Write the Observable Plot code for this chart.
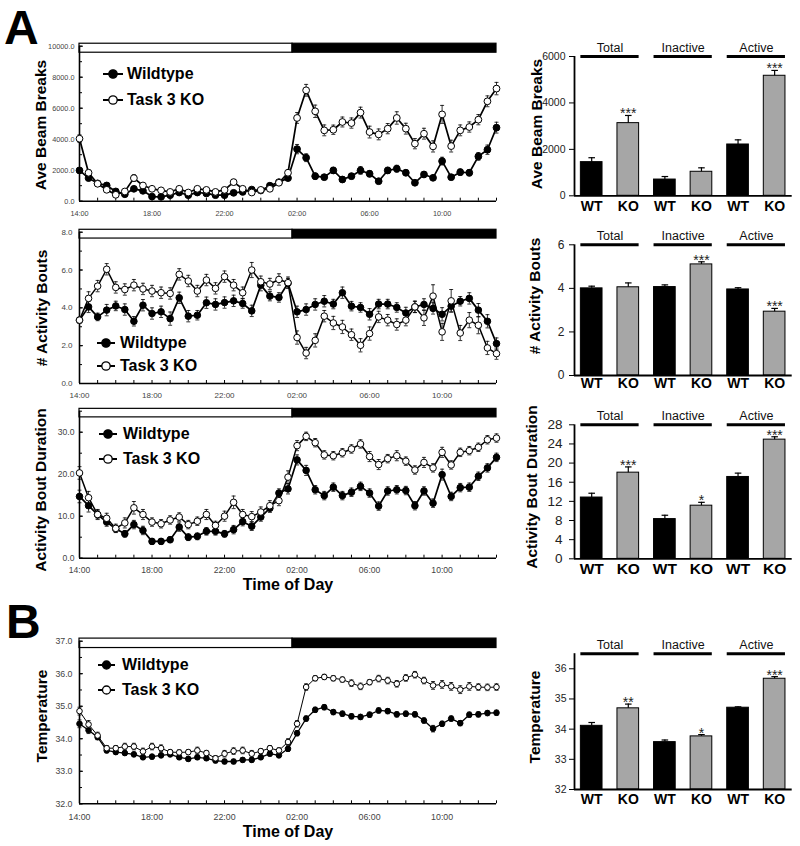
<!DOCTYPE html>
<html><head><meta charset="utf-8">
<script src="https://cdn.jsdelivr.net/npm/d3@7"></script>
<script src="https://cdn.jsdelivr.net/npm/@observablehq/plot@0.6"></script>
<style>
body{margin:0;background:#fff;}
#fig{position:relative;width:800px;height:846px;background:#fff;font-family:"Liberation Sans",Arial,Helvetica,sans-serif;color:#000;overflow:hidden}
.wrap{position:absolute}
.ytitle{position:absolute;transform:translate(-50%,-50%) rotate(-90deg);white-space:nowrap;font-weight:bold;font-size:15.5px;line-height:1}
.panel{position:absolute;font-weight:bold;font-size:48px;line-height:normal}
.xtitle{position:absolute;transform:translate(-50%,-50%);white-space:nowrap;font-weight:bold;font-size:16px;line-height:1}
.leg{position:absolute;display:flex;align-items:center;font-weight:bold;font-size:16px;white-space:nowrap;transform:translateY(-50%);line-height:1}
</style></head>
<body>
<div id="fig"></div>
<script>
// ---------- DATA ----------
// half-hour bins, hours after 14:00 (14:00 ... 13:00)
const halfHours = d3.range(47).map(i => i / 2);
const hourTicks = d3.range(0, 24);
const labelTicks = [0, 4, 8, 12, 16, 20];
const phases = [{phase: "light", start: 0, end: 11.75}, {phase: "dark", start: 11.75, end: 23}];
const legendLabels = ["Wildtype", "Task 3 KO"];
const groups = ["Total", "Inactive", "Active"];
const genoLabels = ["WT", "KO"];

// Ave Beam Breaks (time course)
const beamWT = [1985,1490,1150,1015,630,450,800,670,300,280,390,560,390,560,500,390,390,540,600,750,690,1000,1230,1490,3360,2805,1615,1550,1985,1400,1615,1985,1770,1290,1985,2095,1835,1190,1725,1510,2585,1550,1875,1835,2890,3320,4745];
const beamKO = [4034,1835,1125,736,413,627,1490,1015,800,700,600,800,560,800,730,600,730,1230,800,560,730,800,1190,1835,5370,7155,5800,4570,4610,5110,5040,5715,4460,4310,4680,5370,4680,3710,4355,3535,5600,3555,4570,4785,5260,6445,7265];
const beamWTerr = [150,120,100,100,80,80,120,100,60,60,60,80,60,80,80,60,60,80,80,90,90,120,130,150,300,250,200,150,200,150,180,250,200,160,200,220,180,150,180,150,250,170,200,200,250,300,350];
const beamKOerr = [250,200,150,120,100,100,220,150,120,100,100,120,100,120,120,100,100,180,120,100,120,130,150,200,350,380,400,350,300,320,330,350,380,350,330,400,350,330,350,360,580,380,350,330,330,350,400];

// # Activity Bouts (time course)
const boutsWT = [3.35,4.05,3.52,3.88,4.1,3.91,3.29,4.14,3.7,3.79,3.43,4.53,3.56,3.61,4.27,4.18,4.28,4.37,4.23,3.84,5.2,4.62,4.55,5.3,3.79,3.91,4.18,4.35,4.2,4.8,4.09,4.02,3.66,4.2,4.2,4.02,3.73,4.05,4.18,3.97,3.66,4.09,4.35,4.5,3.88,3.29,2.11];
const boutsKO = [3.35,4.5,5.15,6.04,5.08,4.97,5.2,5.0,4.89,4.8,4.76,5.77,5.42,4.89,5.47,5.03,5.65,5.2,4.8,6.0,5.38,5.26,5.5,5.33,2.43,1.61,2.28,3.56,3.2,2.99,2.58,2.02,2.64,3.52,3.35,3.12,3.35,4.05,3.47,4.62,2.73,4.37,2.67,3.35,3.08,1.88,1.58];
const boutsWTerr = [0.15,0.3,0.2,0.3,0.25,0.3,0.25,0.3,0.3,0.3,0.35,0.3,0.3,0.25,0.3,0.3,0.3,0.3,0.25,0.3,0.3,0.25,0.25,0.25,0.3,0.3,0.3,0.3,0.25,0.3,0.25,0.25,0.3,0.25,0.25,0.25,0.3,0.3,0.3,0.3,0.35,0.3,0.25,0.3,0.35,0.35,0.3];
const boutsKOerr = [0.15,0.35,0.3,0.3,0.3,0.3,0.3,0.3,0.3,0.3,0.3,0.3,0.3,0.3,0.3,0.3,0.3,0.3,0.3,0.4,0.3,0.3,0.3,0.3,0.35,0.3,0.35,0.3,0.35,0.35,0.3,0.35,0.35,0.3,0.3,0.3,0.3,0.3,0.4,0.6,0.45,0.6,0.4,0.4,0.45,0.35,0.3];

// Activity Bout Duration (time course)
const durWT = [14.7,12.5,10.4,8.6,7.0,5.8,8.0,6.6,4.0,4.0,4.4,7.4,5.0,5.2,6.4,6.4,5.8,6.8,8.7,7.6,9.8,11.9,15.5,16.5,23.4,20.9,16.3,14.9,16.9,14.9,15.7,17.1,15.5,12.4,16.0,16.3,16.1,12.5,16.0,13.1,19.9,14.7,16.8,16.9,19.5,21.5,24.0];
const durKO = [20.3,14.4,10.4,9.5,7.1,8.4,12.0,10.4,8.6,8.2,9.1,9.8,8.0,8.8,10.4,7.8,10.0,13.3,10.4,9.9,11.0,12.5,13.7,19.3,26.8,29.0,27.5,24.6,24.4,25.1,26.0,27.2,24.2,22.3,23.7,24.4,23.1,21.0,22.8,21.5,25.2,22.2,25.2,25.6,26.4,28.2,28.6];
const durWTerr = [1.5,1.5,1.0,1.0,0.8,0.8,1.0,1.0,0.7,0.7,0.7,1.0,0.8,0.8,0.9,0.9,0.8,1.0,1.0,1.0,1.0,1.0,1.0,1.2,1.2,1.2,1.0,1.0,1.0,1.0,1.0,1.0,1.0,1.0,1.0,1.0,1.0,1.0,1.0,1.0,1.3,1.0,1.0,1.0,1.0,1.0,1.0];
const durKOerr = [1.5,1.5,1.2,1.2,1.0,1.2,1.5,1.2,1.0,1.0,1.0,1.0,1.0,1.0,1.2,1.0,1.2,1.5,1.2,1.2,1.2,1.2,1.2,1.5,1.2,1.0,1.0,1.0,1.0,1.0,1.0,1.0,1.2,1.2,1.0,1.2,1.0,1.0,1.2,1.0,1.2,1.0,1.0,1.0,1.0,1.0,1.0];

// Temperature (time course)
const tempWT = [34.46,34.26,34.05,33.64,33.59,33.56,33.52,33.43,33.45,33.49,33.52,33.43,33.38,33.43,33.40,33.33,33.30,33.30,33.35,33.35,33.43,33.54,33.49,33.69,34.17,34.62,34.89,34.97,34.82,34.77,34.69,34.67,34.74,34.87,34.85,34.75,34.77,34.75,34.56,34.31,34.46,34.62,34.48,34.74,34.75,34.79,34.80];
const tempKO = [34.85,34.44,34.1,33.71,33.71,33.76,33.76,33.61,33.76,33.71,33.59,33.58,33.59,33.64,33.56,33.40,33.54,33.62,33.64,33.54,33.62,33.71,33.64,33.9,34.46,35.59,35.86,35.9,35.86,35.82,35.71,35.61,35.74,35.85,35.79,35.69,35.87,35.97,35.79,35.64,35.67,35.61,35.51,35.61,35.59,35.58,35.59];
const tempWTerr = [0.12,0.1,0.08,0.07,0.07,0.07,0.07,0.07,0.07,0.07,0.07,0.07,0.07,0.07,0.07,0.07,0.07,0.07,0.07,0.07,0.07,0.07,0.07,0.08,0.08,0.08,0.08,0.08,0.08,0.08,0.08,0.08,0.08,0.08,0.08,0.08,0.08,0.08,0.08,0.1,0.08,0.08,0.08,0.08,0.08,0.08,0.08];
const tempKOerr = [0.12,0.12,0.1,0.08,0.08,0.1,0.1,0.1,0.1,0.1,0.08,0.08,0.08,0.1,0.08,0.08,0.1,0.1,0.1,0.1,0.08,0.08,0.08,0.1,0.1,0.1,0.08,0.08,0.08,0.08,0.1,0.1,0.08,0.1,0.1,0.1,0.1,0.1,0.1,0.12,0.12,0.12,0.12,0.12,0.1,0.1,0.1];

// Bar summaries: [Total, Inactive, Active]
const barBeamWT = [1450, 700, 2210], barBeamKO = [3130, 1035, 5170];
const barBeamWTerr = [190, 130, 200], barBeamKOerr = [330, 170, 230];
const barBeamStars = ["***", "", "***"];
const barBoutsWT = [4.0, 4.06, 3.95], barBoutsKO = [4.05, 5.1, 2.93];
const barBoutsWTerr = [0.1, 0.1, 0.08], barBoutsKOerr = [0.2, 0.12, 0.15];
const barBoutsStars = ["", "***", "***"];
const barDurWT = [12.8, 8.3, 17.1], barDurKO = [18.0, 11.1, 24.9];
const barDurWTerr = [0.9, 0.8, 0.8], barDurKOerr = [1.2, 0.7, 0.6];
const barDurStars = ["***", "*", "***"];
const barTempWT = [34.11, 33.57, 34.71], barTempKO = [34.69, 33.76, 35.67];
const barTempWTerr = [0.11, 0.07, 0.03], barTempKOerr = [0.14, 0.06, 0.07];
const barTempStars = ["**", "*", "***"];

// ---------- HELPERS ----------
const fig = document.getElementById("fig");
const FONT = '"Liberation Sans", Arial, Helvetica, sans-serif';
const baseStyle = {fontFamily: FONT, background: "none", overflow: "visible", maxWidth: "none"};
const clock = h => String((14 + h) % 24).padStart(2, "0") + ":00";

function place(svg, left, top) {
  const d = document.createElement("div");
  d.className = "wrap"; d.style.left = left + "px"; d.style.top = top + "px";
  d.appendChild(svg); fig.appendChild(d);
}
function addDiv(cls, text, x, y) {
  const d = document.createElement("div");
  d.className = cls; d.textContent = text;
  d.style.left = x + "px"; d.style.top = y + "px";
  fig.appendChild(d);
}
function legend(x0, x1, tx, y, label, filled, r) {
  const d = document.createElement("div");
  d.className = "leg"; d.style.left = x0 + "px"; d.style.top = y + "px";
  const w = tx - x0, lw = x1 - x0;
  d.innerHTML = `<svg width="${w}" height="12" style="overflow:visible;display:block"><line x1="0" x2="${lw}" y1="6" y2="6" stroke="black" stroke-width="2"/><circle cx="${lw / 2}" cy="6" r="${r}" fill="${filled ? "black" : "white"}" stroke="black" stroke-width="1.3"/></svg><span>${label}</span>`;
  fig.appendChild(d);
}

function lineChart(o) {
  const [y0, y1] = o.yDomain, span = y1 - y0;
  const rows = halfHours.map((t, i) => ({t, wt: o.wt[i], ko: o.ko[i], we: o.wtErr[i], ke: o.koErr[i]}));
  const capW = 0.11;
  const err = (k, e) => [
    Plot.ruleX(rows, {x: "t", y1: d => d[k] - d[e], y2: d => d[k] + d[e], stroke: "black", strokeWidth: 0.8}),
    Plot.link(rows, {x1: d => d.t - capW, x2: d => d.t + capW, y1: d => d[k] + d[e], y2: d => d[k] + d[e], stroke: "black", strokeWidth: 0.8}),
    Plot.link(rows, {x1: d => d.t - capW, x2: d => d.t + capW, y1: d => d[k] - d[e], y2: d => d[k] - d[e], stroke: "black", strokeWidth: 0.8})
  ];
  return Plot.plot({
    width: 510, height: o.height, marginLeft: 79, marginRight: 14, marginTop: o.mt, marginBottom: o.mb,
    style: baseStyle,
    x: {domain: [0, 23]},
    y: {domain: o.yDomain},
    marks: [
      Plot.rect(phases, {x1: "start", x2: "end", y1: () => y1 - 0.042 * span, y2: () => y1 + 0.016 * span,
        fill: d => d.phase === "light" ? "white" : "black", stroke: "black", strokeWidth: 1.2}),
      Plot.ruleX([0], {y1: y0, y2: y1, stroke: "black", strokeWidth: 1.6}),
      Plot.ruleY([y0], {stroke: "black", strokeWidth: 1.6}),
      Plot.axisX({ticks: hourTicks, tickFormat: () => "", tickSize: -3, label: null}),
      Plot.axisX({ticks: labelTicks, tickFormat: clock, tickSize: 0, tickPadding: o.xpad, fontSize: o.fs, fill: "#444", label: null}),
      Plot.axisY({ticks: o.yMinor, tickFormat: () => "", tickSize: -3, label: null}),
      Plot.axisY({ticks: o.yTicks, tickFormat: d3.format(".1f"), tickSize: -4, tickPadding: 4 + o.ygap, fontSize: o.fs, fill: "#444", label: null}),
      ...err("ko", "ke"), ...err("wt", "we"),
      Plot.line(rows, {x: "t", y: "ko", stroke: "black", strokeWidth: o.koW}),
      Plot.line(rows, {x: "t", y: "wt", stroke: "black", strokeWidth: o.wtW}),
      Plot.dot(rows, {x: "t", y: "wt", r: o.r, fill: "black", stroke: "black", strokeWidth: 1}),
      Plot.dot(rows, {x: "t", y: "ko", r: o.r, fill: "white", stroke: "black", strokeWidth: 1})
    ]
  });
}

function barChart(o) {
  const [y0, y1] = o.yDomain;
  const rows = groups.flatMap((g, gi) => [
    {pos: gi * 2, geno: "WT", v: o.wt[gi], e: o.wtErr[gi], star: ""},
    {pos: gi * 2 + 1, geno: "KO", v: o.ko[gi], e: o.koErr[gi], star: o.stars[gi]}
  ]);
  const gRows = groups.map((g, gi) => ({g, gi}));
  const hw = 0.296, xmin = -0.47;
  return Plot.plot({
    width: 300, height: o.height, marginLeft: 74, marginRight: 8.3, marginTop: o.mt, marginBottom: o.mb,
    style: baseStyle,
    x: {domain: [xmin, 5.48]},
    y: {domain: o.yDomain},
    marks: [
      Plot.rect(rows, {x1: d => d.pos - hw, x2: d => d.pos + hw, y1: () => y0, y2: "v",
        fill: d => d.geno === "WT" ? "black" : "#a6a6a6", stroke: "black", strokeWidth: 1}),
      Plot.ruleX(rows, {x: "pos", y1: "v", y2: d => d.v + d.e, stroke: "black", strokeWidth: 1.2}),
      Plot.link(rows, {x1: d => d.pos - 0.09, x2: d => d.pos + 0.09, y1: d => d.v + d.e, y2: d => d.v + d.e, stroke: "black", strokeWidth: 1.2}),
      Plot.text(rows, {x: "pos", y: d => d.v + d.e, text: "star", lineAnchor: "bottom", dy: 3, fontSize: 14, fill: "#222"}),
      Plot.ruleY(gRows, {y: () => y1, x1: d => d.gi * 2 - hw, x2: d => d.gi * 2 + 1 + hw, stroke: "black", strokeWidth: 3}),
      Plot.text(gRows, {x: d => d.gi * 2 + 0.5, y: () => y1, text: "g", dy: -9, fontSize: 12.5, fill: "#111"}),
      Plot.ruleX([xmin], {y1: y0, y2: y1, stroke: "black", strokeWidth: 1.8}),
      Plot.ruleY([y0], {stroke: "black", strokeWidth: 1.8}),
      Plot.axisY({ticks: o.yTicks, tickFormat: d => String(d), tickSize: 5, tickPadding: o.ypad, fontSize: o.yfs, fill: "#222", label: null}),
      Plot.axisX({ticks: d3.range(6), tickFormat: i => genoLabels[i % 2], tickSize: 0, tickPadding: o.xpad, fontSize: o.xfs, fontWeight: "bold", label: null})
    ]
  });
}

// ---------- LINE CHARTS ----------
place(lineChart({wt: beamWT, ko: beamKO, wtErr: beamWTerr, koErr: beamKOerr, yDomain: [0, 10000],
  yTicks: d3.range(0, 10001, 2000), yMinor: d3.range(0, 10001, 1000),
  height: 195, mt: 15.7, mb: 24.3, fs: 7.3, xpad: 9.5, ygap: 5, r: 3.4, wtW: 1.7, koW: 1.7}), 0, 30);
place(lineChart({wt: boutsWT, ko: boutsKO, wtErr: boutsWTerr, koErr: boutsKOerr, yDomain: [0, 8],
  yTicks: d3.range(0, 8.01, 2), yMinor: d3.range(0, 8.01, 1),
  height: 195, mt: 16.7, mb: 27, fs: 8, xpad: 9.2, ygap: 7, r: 3.3, wtW: 1.7, koW: 1.5}), 0, 215);
place(lineChart({wt: durWT, ko: durKO, wtErr: durWTerr, koErr: durKOerr, yDomain: [0, 35],
  yTicks: [0, 10, 20, 30], yMinor: d3.range(0, 35.1, 5),
  height: 190, mt: 15.7, mb: 27.3, fs: 8.6, xpad: 8.3, ygap: 5, r: 3.3, wtW: 1.7, koW: 1.5}), 0, 395);
place(lineChart({wt: tempWT, ko: tempKO, wtErr: tempWTerr, koErr: tempKOerr, yDomain: [32, 37],
  yTicks: d3.range(32, 37.01, 1), yMinor: d3.range(32, 37.01, 0.5),
  height: 200, mt: 15.7, mb: 21.7, fs: 8.8, xpad: 9.6, ygap: 7, r: 2.8, wtW: 1.3, koW: 1.0}), 0, 625);

// ---------- BAR CHARTS ----------
place(barChart({wt: barBeamWT, ko: barBeamKO, wtErr: barBeamWTerr, koErr: barBeamKOerr, stars: barBeamStars,
  yDomain: [0, 6000], yTicks: [0, 2000, 4000, 6000], height: 190, mt: 26, mb: 24.7, yfs: 10.5, ypad: 4, xfs: 14, xpad: 5}), 500, 30);
place(barChart({wt: barBoutsWT, ko: barBoutsKO, wtErr: barBoutsWTerr, koErr: barBoutsKOerr, stars: barBoutsStars,
  yDomain: [0, 6], yTicks: [0, 2, 4, 6], height: 185, mt: 29.3, mb: 25, yfs: 12, ypad: 5, xfs: 14, xpad: 2.5}), 500, 215);
place(barChart({wt: barDurWT, ko: barDurKO, wtErr: barDurWTerr, koErr: barDurKOerr, stars: barDurStars,
  yDomain: [0, 28], yTicks: d3.range(0, 28.1, 4), height: 190, mt: 29.3, mb: 26.7, yfs: 13.5, ypad: 7, xfs: 15.5, xpad: 3.7}), 500, 395);
place(barChart({wt: barTempWT, ko: barTempKO, wtErr: barTempWTerr, koErr: barTempKOerr, stars: barTempStars,
  yDomain: [32, 36.5], yTicks: [32, 33, 34, 35, 36], height: 210, mt: 33.2, mb: 41, yfs: 10.5, ypad: 3, xfs: 14, xpad: 5}), 500, 620);

// ---------- TEXT OVERLAYS ----------
addDiv("panel", "A", 4, 0);
addDiv("panel", "B", 6, 594);
addDiv("ytitle", "Ave Beam Breaks", 41, 124.5);
addDiv("ytitle", "# Activity Bouts", 41.5, 308);
addDiv("ytitle", "Activity Bout Duration", 41, 490);
addDiv("ytitle", "Temperature", 41.7, 716);
addDiv("ytitle", "Ave Beam Breaks", 537, 124);
addDiv("ytitle", "# Activity Bouts", 535, 296);
addDiv("ytitle", "Activity Bout Duration", 532, 487);
addDiv("ytitle", "Temperature", 535, 717);
addDiv("xtitle", "Time of Day", 288, 585);
addDiv("xtitle", "Time of Day", 288, 832);

legend(103, 123, 127, 74.3, legendLabels[0], true, 4.2);
legend(103, 123, 127, 100, legendLabels[1], false, 4.2);
legend(97, 115, 120, 343.3, legendLabels[0], true, 4.2);
legend(97, 115, 120, 366, legendLabels[1], false, 4.2);
legend(99, 117, 123, 434, legendLabels[0], true, 4.2);
legend(99, 117, 123, 459.3, legendLabels[1], false, 4.2);
legend(98, 115, 122, 665, legendLabels[0], true, 4);
legend(98, 115, 122, 690, legendLabels[1], false, 4);
</script>
</body></html>
